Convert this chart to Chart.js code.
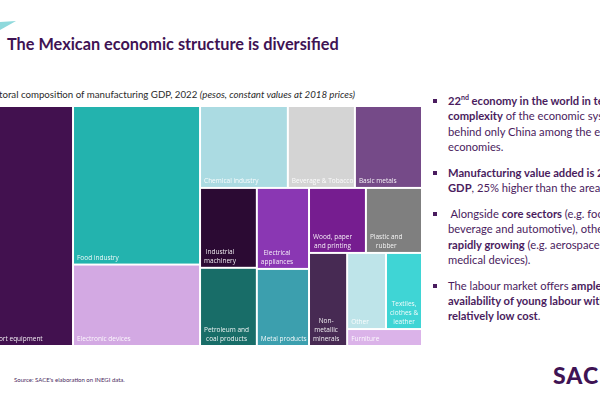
<!DOCTYPE html>
<html>
<head>
<meta charset="utf-8">
<script src="https://cdn.jsdelivr.net/npm/chart.js@4"></script>
<style>
    body { margin: 0; width: 600px; height: 400px; overflow: hidden; position: relative; background: #fff; font-family: Lato, 'Open Sans', sans-serif; }
    #logoMark { position: absolute; left: 0; top: 20px; }
    #title { position: absolute; left: 7px; top: 34px; font-size: 16.3px; font-weight: bold; color: #3f1354; white-space: nowrap; }
    #subtitle { position: absolute; left: -16px; top: 88px; font-size: 9.7px; color: #2b2b2b; white-space: nowrap; }
    #treemap { position: absolute; left: -26px; top: 106px; }
    #bullets { position: absolute; left: 432px; top: 93px; width: 240px; color: #4a1c5e; font-size: 11.2px; line-height: 15.3px; margin: 0; padding: 0; list-style: none; }
    #bullets li { position: relative; padding-left: 16px; margin-bottom: 10.6px; white-space: nowrap; }
    #bullets li::before { content: ''; position: absolute; left: 1px; top: 6px; width: 4px; height: 4px; background: #4a1c5e; }
    #source { position: absolute; left: 14px; top: 376px; font-size: 6px; color: #4a2a5e; white-space: nowrap; }
    #brand { position: absolute; left: 553px; top: 361px; font-size: 23px; font-weight: 900; color: #3f1354; letter-spacing: 1px; }
</style>
</head>
<body>
<svg id="logoMark" width="20" height="14"><polygon points="0,2 16,1 0,10" fill="#8fd9dc"/></svg>
<div id="title">The Mexican economic structure is diversified</div>
<div id="subtitle">Sectoral composition of manufacturing GDP, 2022 <i>(pesos, constant values at 2018 prices)</i></div>
<canvas id="treemap" width="448" height="240"></canvas>
<ul id="bullets">
    <li><b>22<sup style="font-size:7px;line-height:0">nd</sup> economy in the world in terms of</b><br><b>complexity</b> of the economic system,<br>behind only China among the emerging<br>economies.</li>
    <li><b>Manufacturing value added is 20% of</b><br><b>GDP</b>, 25% higher than the area average.</li>
    <li>&nbsp;Alongside <b>core sectors</b> (e.g. food,<br>beverage and automotive), others are<br><b>rapidly growing</b> (e.g. aerospace and<br>medical devices).</li>
    <li>The labour market offers <b>ample</b><br><b>availability of young labour with a</b><br><b>relatively low cost</b>.</li>
</ul>
<div id="source">Source: SACE's elaboration on INEGI data.</div>
<div id="brand">SACE</div>
<script>
// sectors, share of manufacturing GDP (%)
const sectors = ['Transport equipment', 'Food industry', 'Electronic devices', 'Chemical industry', 'Beverage & Tobacco', 'Basic metals',
    'Industrial machinery', 'Petroleum and coal products', 'Electrical appliances', 'Metal products', 'Wood, paper and printing',
    'Plastic and rubber', 'Non-metallic minerals', 'Other', 'Textiles, clothes & leather', 'Furniture'];
const shares = [22.1, 18.73, 9.62, 6.69, 5.11, 5.11, 4.22, 4.13, 3.93, 3.74, 3.44, 3.39, 3.3, 2.75, 2.55, 1.18];
const labelLines = [['Transport equipment'], ['Food industry'], ['Electronic devices'], ['Chemical industry'], ['Beverage & Tobacco'],
    ['Basic metals'], ['Industrial', 'machinery'], ['Petroleum and', 'coal products'], ['Electrical', 'appliances'], ['Metal products'],
    ['Wood, paper', 'and printing'], ['Plastic and', 'rubber'], ['Non-', 'metallic', 'minerals'], ['Other'], ['Textiles,', 'clothes &', 'leather'], ['Furniture']];
const colors = ['#42114f', '#23b3ae', '#d3a9e3', '#abdbe2', '#d4d4d4', '#754a88', '#2b0a33', '#186d68', '#8a37b3', '#3c9fae',
    '#761d90', '#7f7f7f', '#472a53', '#bee4e9', '#3fd5d5', '#dbb3e9'];

// nesting of the tiles: 'h' = side by side, 'v' = stacked (indices into sectors)
const nesting = ['h', 0, ['v', 1, 2], ['v', ['h', 3, 4, 5], ['h', ['v', 6, 7], ['v', 8, 9], ['v', ['h', 10, 11], ['h', 12, ['v', ['h', 13, 14], 15]]]]]];

function nodeSum(node) {
    if (typeof node === 'number') return shares[node];
    return node.slice(1).reduce((s, c) => s + nodeSum(c), 0);
}

function split(node, x0, y0, x1, y1, out) {
    if (typeof node === 'number') {
        out.push({ i: node, x0, y0, x1, y1 });
        return;
    }
    const horizontal = node[0] === 'h';
    const total = nodeSum(node);
    let pos = horizontal ? x0 : y0;
    node.slice(1).forEach((child) => {
        const span = (horizontal ? x1 - x0 : y1 - y0) * nodeSum(child) / total;
        if (horizontal) split(child, pos, y0, pos + span, y1, out);
        else split(child, x0, pos, x1, pos + span, out);
        pos += span;
    });
}

const treemapPlugin = {
    id: 'treemapTiles',
    afterDatasetsDraw(chart) {
        const { ctx, scales: { x, y } } = chart;
        const tiles = [];
        split(nesting, 0, 0, 100, 100, tiles);
        ctx.save();
        tiles.forEach((t) => {
            const left = x.getPixelForValue(t.x0) + 1;
            const right = x.getPixelForValue(t.x1) - 1;
            const top = y.getPixelForValue(t.y0) + 1;
            const bottom = y.getPixelForValue(t.y1) - 1;
            ctx.fillStyle = colors[t.i];
            ctx.fillRect(left, top, right - left, bottom - top);

            const lines = labelLines[t.i];
            ctx.font = '6.5px "Open Sans", sans-serif';
            ctx.fillStyle = 'rgba(255,255,255,0.92)';
            ctx.textBaseline = 'alphabetic';
            ctx.textAlign = 'center';
            const blockW = Math.max(...lines.map((l) => ctx.measureText(l).width));
            const cx = left + 3 + blockW / 2;
            lines.forEach((l, k) => {
                ctx.fillText(l, cx, bottom - 4 - (lines.length - 1 - k) * 9);
            });
        });
        ctx.restore();
    },
};

new Chart(document.getElementById('treemap'), {
    type: 'scatter',
    data: { datasets: [{ label: 'Manufacturing GDP', data: [] }] },
    options: {
        responsive: false,
        animation: false,
        layout: { padding: 0 },
        scales: {
            x: { type: 'linear', min: 0, max: 100, display: false },
            y: { type: 'linear', min: 0, max: 100, reverse: true, display: false },
        },
        plugins: {
            legend: { display: false },
            tooltip: { enabled: false },
        },
    },
    plugins: [treemapPlugin],
});
</script>
</body>
</html>
